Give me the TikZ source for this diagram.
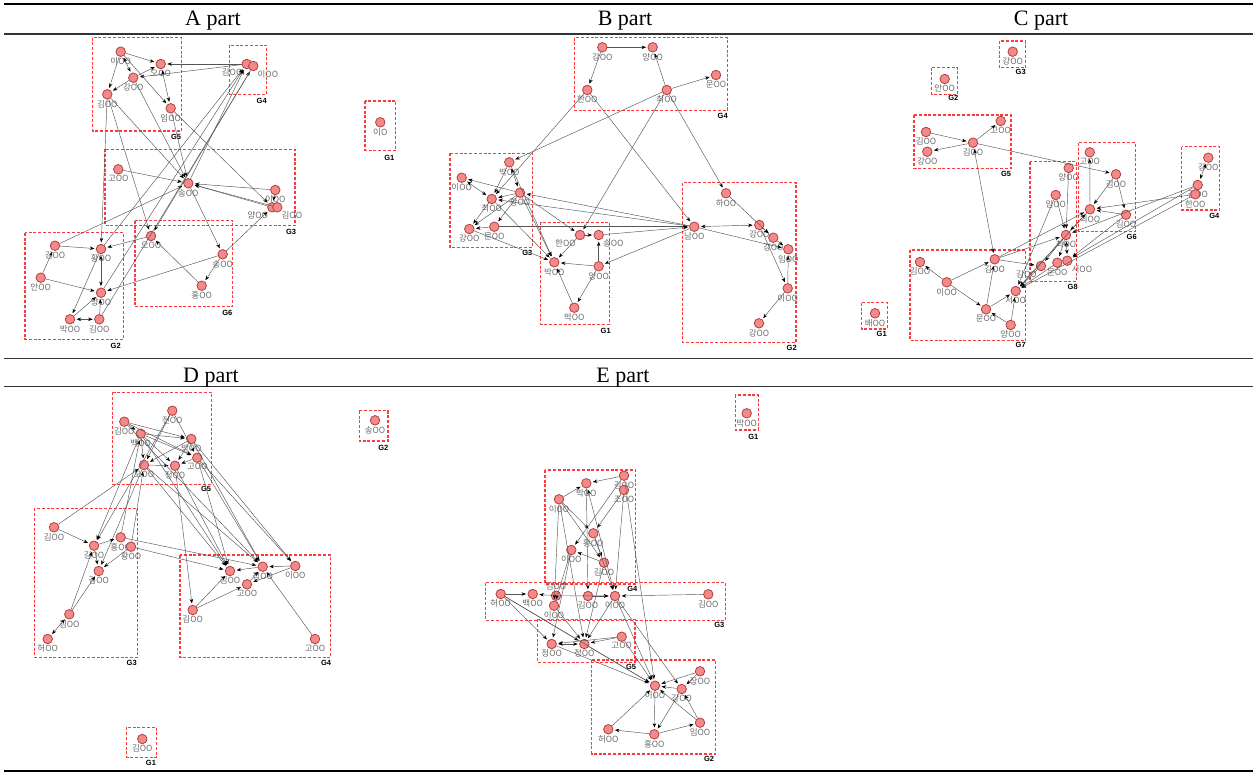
\documentclass[tikz,border=0pt]{standalone}
\usepackage{fontspec}
\usetikzlibrary{arrows.meta}
\newfontfamily\kfont{Noto Sans CJK KR}
\newfontfamily\tfont{Liberation Serif}
\newfontfamily\gfont{Liberation Sans}
\definecolor{ndfill}{HTML}{F28A8A}
\definecolor{ndline}{HTML}{B83C3C}
\definecolor{gred}{HTML}{FF3A3A}
\definecolor{edgec}{HTML}{555555}
\definecolor{labc}{HTML}{6A6A6A}
\tikzset{
 pt/.style={circle,inner sep=0pt,minimum size=9.5pt,fill=ndfill,draw=ndline,line width=0.8pt,label distance=1pt},
 lab/.style={font=\kfont\fontsize{8.5}{9}\selectfont,text=labc,inner sep=0.5pt},
 ar/.style={draw=edgec,line width=0.45pt,-{Stealth[length=4.5pt,width=3.5pt,color=black]},shorten >=1.5pt},
 ard/.style={draw=edgec,line width=0.45pt,{Stealth[length=4.5pt,width=3.5pt,color=black]}-{Stealth[length=4.5pt,width=3.5pt,color=black]},shorten >=1.5pt,shorten <=1.5pt},
 gb/.style={draw=gred,line width=1.2pt,dash pattern=on 3pt off 1.8pt},
 glab/.style={font=\gfont\bfseries\fontsize{7.5}{8}\selectfont,inner sep=0pt},
 ttl/.style={font=\tfont\fontsize{22}{24}\selectfont,inner sep=0pt,anchor=base}
}
\newcommand\mynd[4]{\node[pt,label={[lab]below:#4}] (#1) at (#2,#3) {};}
\newcommand\myndp[5]{\node[pt,label={[lab]#5:#4}] (#1) at (#2,#3) {};}
\newcommand\gbox[8]{\draw[gb] (#2,#3) rectangle (#4,#5); \node[glab] (#1) at (#7,#8) {#6};}
\begin{document}
\begin{tikzpicture}[x=1pt,y=-1pt]
\useasboundingbox (0,0) rectangle (1257,773);
% table rules
\draw[line width=2.5pt] (4,4) -- (1253,4);
\draw[line width=1.1pt,black!80] (4,34) -- (1253,34);
\draw[line width=1pt,black!80] (4,358) -- (1253,358);
\draw[line width=1pt,black!80] (4,386.5) -- (1253,386.5);
\draw[line width=1.6pt] (4,771) -- (1253,771);
\node[ttl] (tA) at (213,26) {A part};
\node[ttl] (tB) at (625,26) {B part};
\node[ttl] (tC) at (1041,26) {C part};
\node[ttl] (tD) at (211,382) {D part};
\node[ttl] (tE) at (623,382) {E part};

% ================= A =================
\gbox{gA5}{92.7}{37.7}{181.3}{131}{G5}{176}{136.7}
\gbox{gA4}{229.3}{45.5}{266.7}{94.3}{G4}{261.7}{100.7}
\gbox{gA1}{365}{101}{395.7}{150.3}{G1}{389.3}{158}
\gbox{gA3}{105}{149.3}{295}{225.5}{G3}{291}{232}
\gbox{gA6}{135}{220.7}{232.7}{306.7}{G6}{227.3}{313.3}
\gbox{gA2}{25}{232.7}{123.3}{339.3}{G2}{115.7}{346}
\mynd{a1}{120.7}{51.7}{이OO}
\mynd{a2}{160.7}{64}{오OO}
\mynd{a3}{133.3}{77.7}{강OO}
\mynd{a4}{107.3}{94.3}{김OO}
\mynd{a5}{170.7}{108.3}{임OO}
\myndp{a6}{246.7}{64}{김OO}{below left}
\myndp{a7}{253.3}{66}{이OO}{below right}
\mynd{a8}{380.3}{122.3}{이O}
\mynd{a9}{118.3}{169.3}{고OO}
\mynd{a10}{188.3}{183.3}{송OO}
\mynd{a11}{275.3}{190}{이OO}
\myndp{a12}{272.3}{207.3}{양OO}{below left}
\myndp{a13}{277.3}{207.3}{김OO}{below right}
\mynd{a14}{151}{236}{오OO}
\mynd{a15}{222.7}{254.3}{송OO}
\mynd{a16}{201.7}{285.7}{홍OO}
\mynd{a17}{55}{245.7}{김OO}
\mynd{a18}{101}{249}{황OO}
\mynd{a19}{40.7}{277.7}{안OO}
\mynd{a20}{101}{292.7}{양OO}
\mynd{a21}{70}{319.3}{박OO}
\mynd{a22}{99.3}{319.3}{김OO}
\foreach \s/\t in {a1/a2,a1/a4,a3/a2,a6/a2,a6/a3,a3/a4,a1/a5,a4/a18,a4/a10,a4/a14,a3/a10,a5/a10,a5/a12,a9/a10,a11/a10,a12/a10,a13/a10,a10/a15,a15/a12,a15/a16,a16/a14,a15/a20,a14/a18,a17/a18,a17/a10,a19/a17,a19/a20,a18/a21,a21/a20,a22/a20,a20/a6,a18/a6,a22/a7,a7/a14,a10/a6,a11/a12}
  \draw[ar] (\s) -- (\t);
\foreach \s/\t in {a1/a3,a2/a5,a18/a20,a21/a22}
  \draw[ard] (\s) -- (\t);

% ================= B =================
\gbox{gB4}{574.3}{37.7}{727.3}{110.3}{G4}{722.7}{116.3}
\gbox{gB3}{450}{153.3}{532.7}{247.3}{G3}{527.3}{253.3}
\gbox{gB1}{540.7}{222.3}{609.3}{324.3}{G1}{605.7}{330.7}
\gbox{gB2}{682.3}{182.7}{796}{342.3}{G2}{791.7}{348.3}
\mynd{b1}{602.3}{47.3}{강OO}
\mynd{b2}{652.7}{47.3}{양OO}
\mynd{b3}{716}{75}{문OO}
\mynd{b4}{587.3}{90}{한OO}
\mynd{b5}{666.7}{90}{최OO}
\mynd{b6}{509.3}{162.3}{박OO}
\mynd{b7}{461.7}{177.7}{이OO}
\mynd{b8}{491.7}{199}{최OO}
\mynd{b9}{520}{192.7}{황OO}
\mynd{b10}{469.3}{229}{강OO}
\mynd{b11}{494.3}{226.7}{문OO}
\myndp{b12}{580}{235}{한OO}{below left}
\myndp{b13}{598.7}{235}{송OO}{below right}
\mynd{b14}{554.3}{262.3}{박OO}
\mynd{b15}{598.7}{266.3}{양OO}
\mynd{b16}{574.3}{307.7}{박OO}
\mynd{b17}{726}{193.3}{하OO}
\mynd{b18}{694.3}{226.7}{남OO}
\mynd{b19}{759.3}{225}{강OO}
\mynd{b20}{773.3}{237.7}{강OO}
\mynd{b21}{788.3}{249.3}{임OO}
\mynd{b22}{787.7}{288.3}{이OO}
\mynd{b23}{759}{323.3}{강OO}
\foreach \s/\t in {b1/b2,b1/b4,b5/b2,b5/b3,b5/b6,b4/b8,b4/b18,b5/b17,b5/b12,b18/b9,b18/b8,b11/b18,b13/b18,b18/b15,b17/b20,b18/b21,b19/b20,b20/b21,b22/b21,b22/b23,b19/b22,b12/b13,b15/b13,b15/b14,b15/b16,b16/b14,b12/b14,b9/b7,b9/b8,b9/b10,b9/b11,b8/b10,b11/b10,b6/b8,b9/b14,b6/b14,b9/b12,b8/b14,b10/b14}
  \draw[ar] (\s) -- (\t);
\foreach \s/\t in {b18/b19,b7/b8,b6/b9}
  \draw[ard] (\s) -- (\t);

% ================= C =================
\gbox{gC3}{999.3}{41}{1025.3}{67.7}{G3}{1020.7}{71.7}
\gbox{gC2}{931.7}{67.7}{957.3}{94.3}{G2}{953.3}{98.3}
\gbox{gC5}{914}{115}{1011}{168.3}{G5}{1006}{173.7}
\gbox{gC6}{1078.7}{142.7}{1135.3}{231.7}{G6}{1131.7}{237.3}
\gbox{gC4}{1181.7}{146.7}{1219.7}{210}{G4}{1214.3}{216}
\gbox{gC8}{1030}{161.7}{1076.7}{281.7}{G8}{1072.7}{286.7}
\gbox{gC7}{910}{250}{1025.7}{340.7}{G7}{1020.7}{345}
\gbox{gC1}{861.7}{302.7}{887.3}{329}{G1}{881.7}{334}
\mynd{c1}{1012.7}{51.7}{강OO}
\mynd{c2}{944.7}{79}{안OO}
\mynd{c3}{926}{132}{김OO}
\mynd{c4}{927.3}{151.7}{강OO}
\mynd{c5}{973}{142.7}{김OO}
\mynd{c6}{1000.7}{121}{고OO}
\mynd{c7}{1089.7}{152.3}{고OO}
\mynd{c8}{1116}{174.3}{김OO}
\mynd{c9}{1090}{209.3}{최OO}
\mynd{c10}{1126}{214.7}{김OO}
\mynd{c11}{1208.3}{157.7}{강OO}
\mynd{c12}{1197.7}{185}{김OO}
\mynd{c13}{1195.3}{194.3}{한OO}
\mynd{c14}{1068.7}{168}{양OO}
\mynd{c15}{1055.7}{195}{임OO}
\mynd{c16}{1066}{235}{최OO}
\myndp{c17}{1041}{266}{김OO}{below left}
\mynd{c18}{1057.3}{262.7}{문OO}
\myndp{c19}{1067.3}{260.7}{서OO}{below right}
\mynd{c20}{920}{262}{김OO}
\mynd{c21}{946.7}{282.3}{이OO}
\mynd{c22}{994.7}{259.3}{김OO}
\mynd{c23}{1015.7}{291}{서OO}
\mynd{c24}{986}{309.3}{문OO}
\mynd{c25}{1010.7}{325}{양OO}
\mynd{c26}{875}{313.3}{배OO}
\foreach \s/\t in {c3/c5,c5/c4,c5/c6,c5/c8,c21/c20,c21/c22,c21/c24,c24/c23,c25/c24,c25/c23,c24/c22,c22/c17,c22/c9,c15/c16,c14/c16,c15/c23,c16/c17,c16/c18,c9/c7,c8/c9,c8/c10,c10/c9,c9/c23,c10/c19,c12/c19,c13/c9,c13/c23,c16/c23,c22/c16,c17/c23,c18/c23,c12/c16}
  \draw[ar] (\s) -- (\t);
\foreach \s/\t in {c5/c22,c16/c19,c9/c16,c12/c11}
  \draw[ard] (\s) -- (\t);

% ================= D =================
\gbox{gD5}{112.7}{392.3}{211.7}{484.3}{G5}{206}{489.3}
\gbox{gD2}{359.3}{410.7}{388}{441}{G2}{383.3}{448.3}
\gbox{gD3}{34.3}{508.3}{137.7}{657.3}{G3}{131.7}{663.3}
\gbox{gD4}{180}{555}{330.7}{657.3}{G4}{326}{663.3}
\gbox{gD1}{126.7}{727.3}{156.3}{757.3}{G1}{151}{763.3}
\mynd{d1}{172.3}{410.7}{전OO}
\mynd{d2}{124.3}{421.7}{김OO}
\mynd{d3}{140.7}{433.7}{백OO}
\mynd{d4}{191.3}{439}{박OO}
\mynd{d5}{197.3}{457.7}{고OO}
\mynd{d6}{144}{465}{오OO}
\mynd{d7}{175}{465.7}{정OO}
\mynd{d8}{375}{420.3}{송OO}
\mynd{d9}{54}{527.3}{김OO}
\mynd{d10}{94}{545.7}{김OO}
\mynd{d11}{120.7}{537.3}{홍OO}
\mynd{d12}{131}{546.7}{황OO}
\mynd{d13}{98.7}{571}{김OO}
\mynd{d14}{69.3}{614.3}{김OO}
\mynd{d15}{47.7}{639}{허OO}
\mynd{d16}{230}{571}{김OO}
\mynd{d17}{262.7}{566.7}{정OO}
\mynd{d18}{295.3}{566}{이OO}
\mynd{d19}{247}{584.3}{고OO}
\mynd{d20}{192.7}{610}{김OO}
\mynd{d21}{315}{639}{고OO}
\mynd{d22}{142.3}{739}{김OO}
\foreach \s/\t in {d2/d3,d2/d4,d3/d4,d3/d5,d3/d7,d2/d5,d1/d6,d1/d5,d4/d6,d4/d7,d5/d7,d6/d7,d3/d6,d9/d6,d6/d16,d6/d17,d7/d16,d5/d16,d5/d17,d5/d18,d4/d17,d7/d20,d3/d10,d6/d13,d1/d10,d9/d10,d10/d11,d10/d13,d12/d13,d14/d10,d14/d13,d11/d17,d12/d16,d20/d16,d20/d19,d18/d17,d18/d19,d17/d16,d21/d17,d2/d17,d3/d16,d4/d18,d11/d3,d12/d6,d19/d17}
  \draw[ar] (\s) -- (\t);
\foreach \s/\t in {d14/d15}
  \draw[ard] (\s) -- (\t);

% ================= E =================
\gbox{gE1}{735.3}{395}{758.3}{430}{G1}{753.3}{436.7}
\gbox{gE4}{545}{470}{635.7}{584}{G4}{632.3}{589}
\gbox{gE3}{485.7}{582.7}{725.3}{620.7}{G3}{719.3}{625}
\gbox{gE5}{537.7}{619.3}{635}{662.3}{G5}{631}{667.3}
\gbox{gE2}{591.7}{660}{715.3}{754}{G2}{709}{759}
\mynd{e1}{746.7}{413.3}{박OO}
\mynd{e2}{624}{475.7}{김OO}
\mynd{e3}{586.3}{483.3}{박OO}
\mynd{e4}{624}{490}{조OO}
\mynd{e5}{559}{499.3}{이OO}
\mynd{e6}{593.3}{533.3}{황OO}
\mynd{e7}{571.3}{550}{이OO}
\mynd{e8}{604}{562.7}{김OO}
\mynd{e9}{500.7}{594}{허OO}
\mynd{e10}{532.7}{594}{백OO}
\myndp{e11}{556}{595.7}{김OO}{above}
\mynd{e12}{554}{605.7}{이OO}
\mynd{e13}{588}{596}{김OO}
\mynd{e14}{615}{596}{이OO}
\mynd{e15}{708.3}{594.3}{김OO}
\mynd{e16}{551.7}{644}{정OO}
\mynd{e17}{584.3}{644}{정OO}
\mynd{e18}{621.7}{636.7}{고OO}
\mynd{e19}{655}{685.7}{이OO}
\mynd{e20}{700}{671.3}{장OO}
\mynd{e21}{681.7}{689}{강OO}
\mynd{e22}{608.3}{729.3}{허OO}
\mynd{e23}{654.3}{734.3}{홍OO}
\mynd{e24}{700}{722.7}{임OO}
\foreach \s/\t in {e2/e3,e5/e3,e2/e7,e4/e6,e5/e6,e5/e8,e6/e8,e8/e7,e6/e14,e5/e12,e7/e12,e7/e16,e5/e17,e9/e10,e11/e10,e13/e14,e15/e14,e11/e14,e18/e17,e18/e16,e9/e16,e9/e17,e12/e17,e14/e17,e14/e19,e14/e21,e2/e19,e17/e19,e16/e19,e9/e19,e18/e19,e22/e19,e19/e23,e20/e21,e20/e19,e21/e19,e24/e21,e21/e23,e23/e22,e23/e24,e24/e19,e3/e13,e4/e14,e8/e17}
  \draw[ar] (\s) -- (\t);
\foreach \s/\t in {e3/e14,e16/e17}
  \draw[ard] (\s) -- (\t);
\end{tikzpicture}
\end{document}
